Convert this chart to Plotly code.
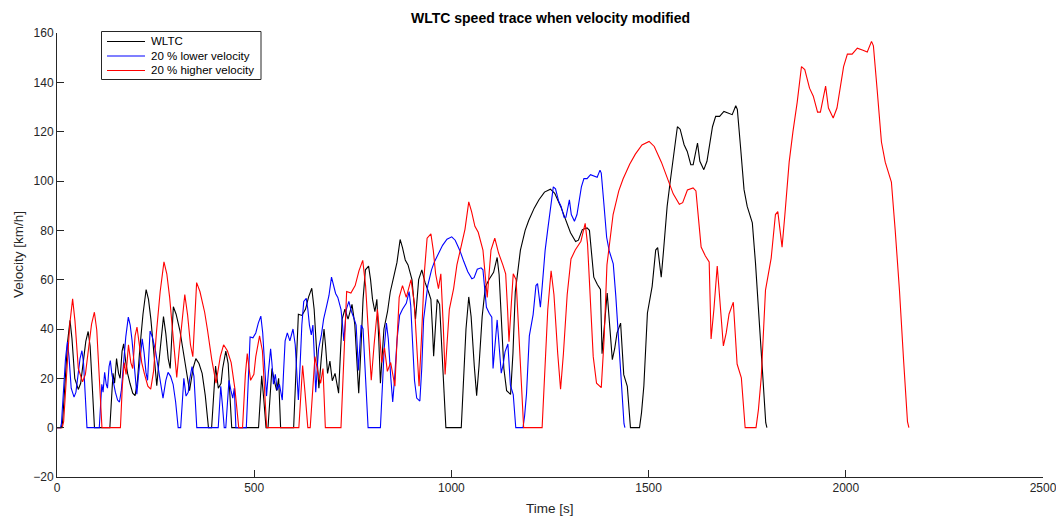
import plotly.graph_objects as go

# ---- WLTC (class 3) speed trace: time [s] and speed [km/h] ----
low_t = [0, 11, 14, 20, 27, 33, 38, 45, 54, 60, 66, 73, 79, 84, 90, 95, 134, 138, 142, 146,
         151, 156, 160, 165, 169, 174, 179, 185, 192, 198, 204, 210, 218, 226, 232, 238, 244, 249, 253, 258,
         264, 270, 276, 282, 287, 291, 295, 302, 312, 318, 327, 336, 345, 352, 360, 368, 376, 384, 392, 398,
         402, 409, 416, 420, 428, 434, 438, 443, 511, 515, 519, 524, 530, 535, 540, 545, 551, 557, 562, 567, 600]
low_v = [0, 0, 2, 18, 35, 43.5, 36, 20, 15.5, 18, 25, 35, 39, 33, 15, 0, 0, 14, 22, 18,
         28, 22, 20, 31, 34, 27, 22, 18, 14, 13, 19, 32, 46, 56, 52, 44, 33, 22, 17, 26,
         36, 45, 38, 28, 24, 38, 49, 46, 39, 33, 23, 15, 24, 28, 26, 22, 13, 0, 0, 18,
         25, 16, 18, 24, 31, 26, 14, 0, 0, 12, 21, 12, 0, 0, 14, 24, 19, 15, 20, 0, 0]

mid_t = [604, 608, 612, 621, 630, 638, 646, 652, 659, 664, 670, 677, 681, 686, 692, 698, 705, 714, 718, 723,
         730, 738, 748, 755, 760, 765, 770, 776, 782, 790, 795, 800, 806, 811, 816, 820, 824, 829, 838, 845,
         855, 862, 870, 876, 883, 890, 900, 905, 909, 913, 917, 925, 933, 942, 948, 952, 955, 960, 964, 970,
         976, 982, 986, 1025]
mid_v = [15, 35, 46, 45.5, 48, 53, 56.5, 48, 28, 16, 28, 40, 33, 22, 27, 19, 22, 14, 28, 44,
         48, 44, 50, 42, 28, 14, 30, 52, 64, 65.5, 60, 52, 47, 52, 35, 18, 28, 40, 47, 55,
         62, 67, 76.3, 73, 68, 66, 60, 52, 44, 52, 60, 64, 59, 55, 52, 40, 29, 42, 52, 50,
         30, 10, 0, 0]

high_t = [1030, 1037, 1044, 1050, 1058, 1064, 1070, 1078, 1086, 1095, 1107, 1116, 1121, 1126, 1133, 1140,
          1150, 1156, 1162, 1175, 1187, 1196, 1210, 1222, 1236, 1251, 1262, 1277, 1289, 1302, 1315, 1322,
          1332, 1344, 1350, 1355, 1361, 1370, 1378, 1382, 1388, 1395, 1402, 1408, 1414, 1420, 1429, 1433,
          1437, 1446, 1450, 1454, 1477]
high_v = [18, 40, 53, 45, 25, 13, 25, 45, 57, 60, 63, 69, 62, 45, 24, 15,
          13.5, 30, 55, 72, 80, 84, 89, 92.4, 95.5, 96.7, 95, 89.7, 84.3, 79, 75.5, 76,
          80.3, 81, 80, 72, 61, 58, 56, 30, 40, 54.6, 40, 27.6, 32, 38.4, 42.4, 30,
          21.5, 16.8, 8, 0, 0]

xhigh_t = [1482, 1488, 1497, 1509, 1518, 1523, 1528, 1532, 1538, 1547, 1555, 1564, 1573, 1580, 1590, 1598,
           1607, 1613, 1624, 1630, 1640, 1648, 1662, 1670, 1680, 1691, 1703, 1712, 1721, 1725, 1733, 1742,
           1750, 1763, 1771, 1780, 1789, 1797, 1800]
xhigh_v = [6, 17, 46.5, 57.3, 72, 73, 65, 61, 72, 89.7, 100, 110, 122, 121, 114.7, 112,
           106.6, 106.6, 115.4, 108, 104.6, 108, 122, 126.2, 126.2, 128.2, 127.5, 126.9, 130.5, 129, 114, 96.5,
           89.7, 83, 66.8, 46.5, 22.2, 2, 0]

# velocity modification factors given by the legend (time and speed both scaled)
lower_factor = 0.8
higher_factor = 1.2

series_names = ["WLTC", "20 % lower velocity", "20 % higher velocity"]
series_colors = ["#000000", "#0000FF", "#FF0000"]
x_ticks = [0, 500, 1000, 1500, 2000, 2500]
y_ticks = [-20, 0, 20, 40, 60, 80, 100, 120, 140, 160]

wltc_t = low_t + mid_t + high_t + xhigh_t
wltc_v = low_v + mid_v + high_v + xhigh_v
assert len(wltc_t) == len(wltc_v)

series_t = [wltc_t,
            [t * lower_factor for t in wltc_t],
            [t * higher_factor for t in wltc_t]]
series_v = [wltc_v,
            [v * lower_factor for v in wltc_v],
            [v * higher_factor for v in wltc_v]]

FONT = "Liberation Sans, Arial, Helvetica, sans-serif"
AX = "#262626"

# plot-area geometry in pixels (for the MATLAB-style legend box)
L, T, W, H = 57, 33, 986, 444


def px(x):
    return (x - L) / W


def py(y):
    return (T + H - y) / H


fig = go.Figure()
for name, tx, vy, col in zip(series_names, series_t, series_v, series_colors):
    fig.add_trace(go.Scatter(x=tx, y=vy, mode="lines", name=name,
                             line=dict(color=col, width=1.1), showlegend=False))

shapes = [dict(type="rect", xref="paper", yref="paper", x0=px(101.5), x1=px(261),
               y0=py(79.5), y1=py(31.5), line=dict(color=AX, width=1), fillcolor="white",
               layer="above")]
annotations = []
row_y = [41.5, 56, 70.5]
for name, col, ry in zip(series_names, series_colors, row_y):
    shapes.append(dict(type="line", xref="paper", yref="paper", x0=px(107), x1=px(145),
                       y0=py(ry), y1=py(ry), line=dict(color=col, width=1.1), layer="above"))
    annotations.append(dict(text=name, xref="paper", yref="paper", x=px(148.5), y=py(ry),
                            xanchor="left", yanchor="middle", showarrow=False,
                            font=dict(size=11.5, color="#000000")))

annotations += [
    dict(text="<b>WLTC speed trace when velocity modified</b>", xref="paper", yref="paper",
         x=0.5, y=py(18), xanchor="center", yanchor="middle", showarrow=False,
         font=dict(size=14, color="#000000")),
    dict(text="Time [s]", xref="paper", yref="paper", x=0.5, y=py(508),
         xanchor="center", yanchor="middle", showarrow=False, font=dict(size=13.5, color=AX)),
    dict(text="Velocity [km/h]", xref="paper", yref="paper", x=px(18), y=0.5,
         xanchor="center", yanchor="middle", showarrow=False, textangle=-90,
         font=dict(size=13.5, color=AX)),
]

fig.update_layout(
    width=1056, height=516,
    margin=dict(l=L, r=1056 - L - W, t=T, b=516 - T - H, autoexpand=False),
    paper_bgcolor="white", plot_bgcolor="white",
    font=dict(family=FONT, size=12, color=AX),
    showlegend=False,
    xaxis=dict(range=[0, 2500], tickvals=x_ticks, ticks="inside", ticklen=7,
               showline=True, linecolor=AX, linewidth=1, showgrid=False, zeroline=False,
               automargin=False, ticklabeloverflow="allow",
               tickfont=dict(size=12, color=AX), tickcolor=AX),
    yaxis=dict(range=[-20, 160], tickvals=y_ticks, ticks="inside", ticklen=7,
               showline=True, linecolor=AX, linewidth=1, showgrid=False, zeroline=False,
               automargin=False, ticklabeloverflow="allow",
               tickfont=dict(size=12, color=AX), tickcolor=AX),
    shapes=shapes,
    annotations=annotations,
)

fig.write_html("out.html")
